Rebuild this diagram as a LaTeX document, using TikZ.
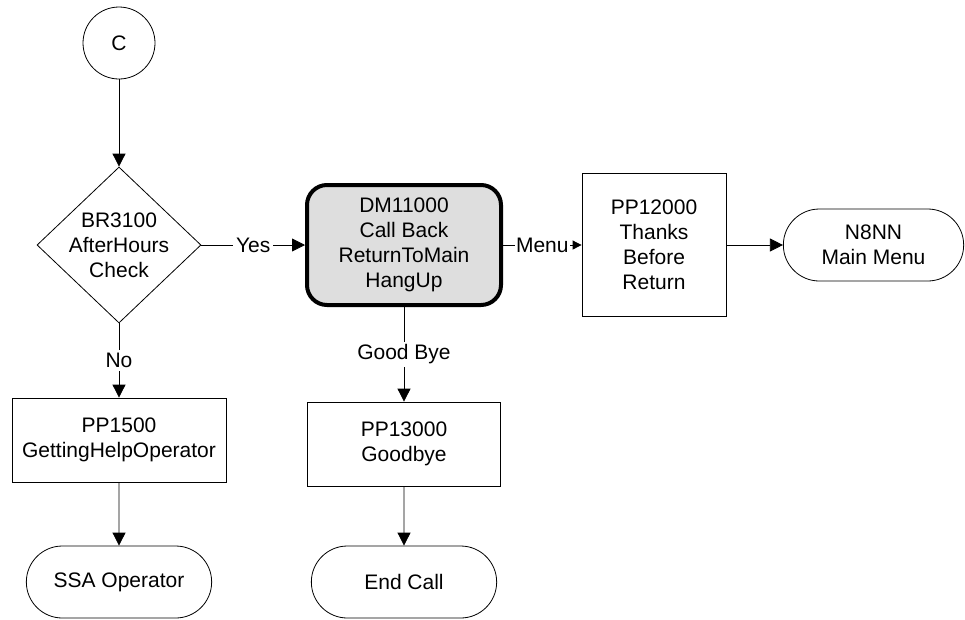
\documentclass[tikz,border=0pt]{standalone}
\usepackage{fontspec}
\setmainfont{Liberation Sans}
\usetikzlibrary{arrows.meta}
\usetikzlibrary{shapes.geometric}
\usetikzlibrary{shapes.misc}
\usetikzlibrary{positioning}
\tikzset{> = {Triangle[length=13pt, width=13pt]},
  every node/.style = {font = \fontsize{21}{25}\selectfont, align = center},
  flow/.style = {->, line width = 0.8pt},
  lbl/.style = {fill = white, inner sep = 3pt},
  conn/.style = {draw, circle, line width = 0.8pt, minimum size = 72pt, inner sep = 0pt},
  decision/.style = {draw, diamond, line width = 0.8pt, minimum width = 164pt, minimum height = 156pt, inner sep = 0pt},
  dialog/.style = {draw, rectangle, line width = 4pt, rounded corners = 20pt, fill = black!13, minimum width = 194pt, minimum height = 120pt},
  prompt/.style = {draw, rectangle, line width = 0.8pt, minimum height = 84pt},
  term/.style = {draw, rounded rectangle, line width = 0.8pt, minimum width = 192pt, minimum height = 72pt}}

\begin{document}
\begin{tikzpicture}[x = 1pt, y = -1pt]
  \useasboundingbox (0,0) rectangle (965,619);
  % nodes
  \node [conn] (c) at (119,43) {C};
  \node [decision, label = {center:BR3100\\AfterHours\\Check}] (br3100) at (119,245) {};
  \node [dialog] (dm11000) at (404,245) {DM11000\\Call Back\\ReturnToMain\\HangUp};
  \node [prompt, minimum width = 144pt, minimum height = 143pt] (pp12000) at (654,245) {PP12000\\Thanks\\Before\\Return};
  \node [term, minimum width = 187pt] (n8nn) at (873.5,245) {N8NN\\Main Menu};
  \node [prompt, minimum width = 214pt] (pp1500) at (119,440) {PP1500\\GettingHelpOperator};
  \node [term] (ssa) at (119,582) {SSA Operator};
  \node [prompt, minimum width = 193pt] (pp13000) at (404,444) {PP13000\\Goodbye};
  \node [term] (endcall) at (404,582) {End Call};
  % paths
  \draw [flow] (c) -- (br3100);
  \draw [flow] (br3100) -- node [lbl] {Yes} (dm11000);
  \draw [flow] (br3100) -- node [lbl] {No} (pp1500);
  \draw [flow, -{Triangle[length=9pt, width=9pt]}] (dm11000) -- node [lbl, inner sep = 1pt] {Menu} (pp12000);
  \draw [flow] (dm11000) -- node [lbl] {Good Bye} (pp13000);
  \draw [flow] (pp12000) -- (n8nn);
  \draw [flow] (pp1500) -- (ssa);
  \draw [flow] (pp13000) -- (endcall);
\end{tikzpicture}
\end{document}
